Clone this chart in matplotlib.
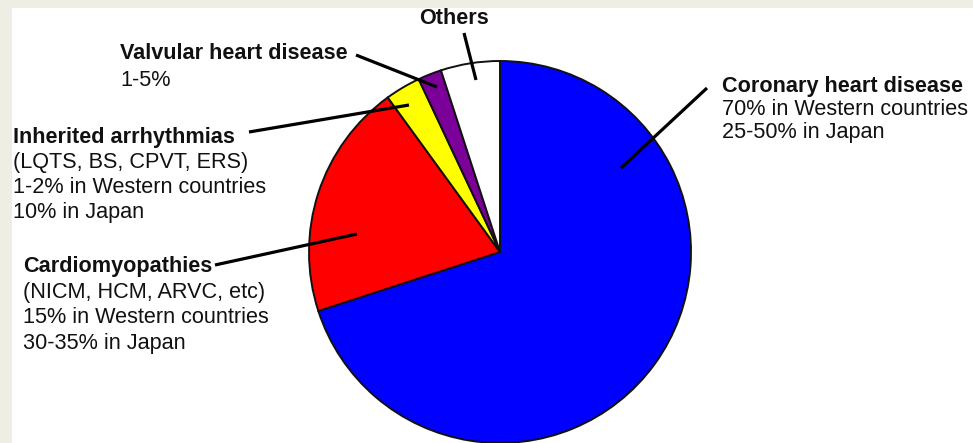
import matplotlib
matplotlib.use("Agg")
import matplotlib.pyplot as plt
from matplotlib.patches import Rectangle

# ---- data ----
categories = ["Coronary heart disease", "Cardiomyopathies", "Inherited arrhythmias",
              "Valvular heart disease", "Others"]
values = [70, 20, 3, 2, 5]
colors = ["#0000FF", "#FF0000", "#FFFF00", "#7B0099", "#FFFFFF"]

label_lines = {
    "Coronary heart disease": ["70% in Western countries", "25-50% in Japan"],
    "Cardiomyopathies": ["(NICM, HCM, ARVC, etc)", "15% in Western countries", "30-35% in Japan"],
    "Inherited arrhythmias": ["(LQTS, BS, CPVT, ERS)", "1-2% in Western countries", "10% in Japan"],
    "Valvular heart disease": ["1-5%"],
    "Others": [],
}

W, H = 973, 443
fig = plt.figure(figsize=(W / 100, H / 100), dpi=100, facecolor="#EEEEE4")
ax = fig.add_axes([0, 0, 1, 1])

def Y(yp):
    return H - yp

# white panel
ax.add_patch(Rectangle((12, 0), W - 12, Y(8), facecolor="white", edgecolor="none", zorder=0))

ax.pie(values, colors=colors, startangle=90, counterclock=False,
       center=(500, Y(252)), radius=191, frame=True,
       wedgeprops=dict(edgecolor="#111111", linewidth=1.4))

ax.set_xlim(0, W)
ax.set_ylim(0, H)
ax.set_aspect("auto")
ax.axis("off")

FONT = "Liberation Sans"
FS = 15.6

def block(x, baselines, title, lines, ha="left"):
    ax.text(x, Y(baselines[0]), title, fontfamily=FONT, fontsize=FS, fontweight="bold",
            ha=ha, va="baseline", color="#111111", zorder=5)
    for b, t in zip(baselines[1:], lines):
        ax.text(x, Y(b), t, fontfamily=FONT, fontsize=FS, ha=ha, va="baseline",
                color="#111111", zorder=5)

block(722, [92, 115, 138], categories[0], label_lines[categories[0]])
block(23, [272, 298, 323, 349], categories[1], label_lines[categories[1]])
block(13, [142.5, 167.5, 193, 218], categories[2], label_lines[categories[2]])
block(120, [59, 86], categories[3], label_lines[categories[3]])
block(454, [24], categories[4], label_lines[categories[4]], ha="center")

# leader lines (pixel coords)
leaders = [
    ((621, 168), (707, 88)),
    ((464, 33), (476, 80)),
    ((356, 55), (437, 87)),
    ((249, 132), (409, 105)),
    ((215, 265), (357, 234)),
]
for (x0, y0), (x1, y1) in leaders:
    ax.plot([x0, x1], [Y(y0), Y(y1)], color="black", linewidth=2.3,
            solid_capstyle="butt", zorder=6)

fig.savefig("out.png", dpi=100, facecolor=fig.get_facecolor())
